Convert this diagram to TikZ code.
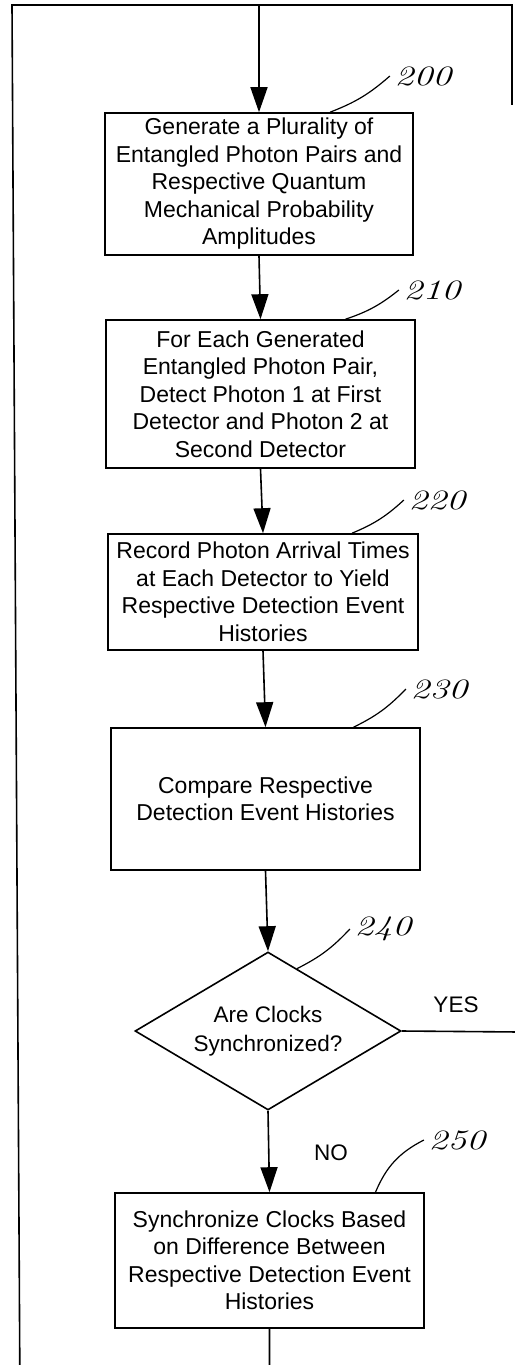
\documentclass[tikz,border=0pt]{standalone}
\usepackage{fontspec}
\setmainfont{Liberation Sans}
\newfontfamily\handfont{Latin Modern Roman}
\usetikzlibrary{arrows.meta,shapes.geometric}

\tikzset{
	stepbox/.style={draw, line width=1.6pt, align=center, inner sep=0pt,
		font=\fontsize{23}{27.5}\selectfont},
	query/.style={draw, diamond, aspect=1.68, line width=1.6pt, align=center,
		inner sep=0pt, minimum width=266pt, minimum height=158pt,
		font=\fontsize{22.5}{29}\selectfont},
	flow/.style={line width=1.6pt, -{Triangle[length=25pt,width=17pt]}},
	wire/.style={line width=1.6pt},
	refnum/.style={font=\handfont\itshape\fontsize{28}{28}\selectfont, xscale=1.35},
	leader/.style={line width=1.2pt},
	answer/.style={font=\fontsize{22.5}{27}\selectfont}
}

\begin{document}
\begin{tikzpicture}[x=1pt,y=-1pt]
	\useasboundingbox (0,0) rectangle (514,1365);
	% process steps
	\node[stepbox, minimum width=308pt, minimum height=142pt] (b200) at (259,184)
		{Generate a Plurality of\\Entangled Photon Pairs and\\Respective Quantum\\Mechanical Probability\\Amplitudes};
	\node[stepbox, minimum width=309pt, minimum height=148pt] (b210) at (260.5,394)
		{For Each Generated\\Entangled Photon Pair,\\Detect Photon 1 at First\\Detector and Photon 2 at\\Second Detector};
	\node[stepbox, minimum width=310pt, minimum height=116pt] (b220) at (263,592)
		{Record Photon Arrival Times\\at Each Detector to Yield\\Respective Detection Event\\Histories};
	\node[stepbox, minimum width=309pt, minimum height=142pt] (b230) at (265.5,799)
		{Compare Respective\\Detection Event Histories};
	\node[query] (d240) at (268,1031) {Are Clocks\\Synchronized?};
	\node[stepbox, minimum width=309pt, minimum height=135pt] (b250) at (269.5,1260.5)
		{Synchronize Clocks Based\\on Difference Between\\Respective Detection Event\\Histories};
	% reference numerals
	\node[refnum] (l200) at (423,76) {200};
	\node[refnum] (l210) at (432,290) {210};
	\node[refnum] (l220) at (437,500) {220};
	\node[refnum] (l230) at (439,689) {230};
	\node[refnum] (l240) at (383,929) {240};
	\node[refnum] (l250) at (457,1140) {250};
	\node[answer] (yes) at (456,1005) {YES};
	\node[answer] (no) at (331,1153) {NO};
	\coordinate (topright) at (512,5);
	\coordinate (rightstub) at (512,105);
	\coordinate (yesend) at (520,1032);
	% connectors
	\draw[flow] (b200.south) -- (b210.north);
	\draw[flow] (b210.south) -- (b220.north);
	\draw[flow] (b220.south) -- (b230.north);
	\draw[flow] (b230.south) -- (d240.north);
	\draw[flow] (d240.south) -- (b250.north);
	\draw[wire] (d240.east) -- (yesend);
	\draw[flow] (b250.south) |- (20,1400) -- (12,5) -| (b200.north);
	\draw[wire] (b200.north |- topright) -- (topright) -- (rightstub);
	% leaders
	\draw[leader] ([xshift=71pt]b200.north) to[bend right=10] (l200.west);
	\draw[leader] ([xshift=85pt]b210.north) to[bend right=10] (l210.west);
	\draw[leader] ([xshift=89pt]b220.north) to[bend right=10] (l220.west);
	\draw[leader] ([xshift=88pt]b230.north) to[bend right=10] (l230.west);
	\draw[leader] (d240.65) to[bend right=10] (l240.west);
	\draw[leader] ([xshift=106pt]b250.north) to[bend left=20] (l250.west);
\end{tikzpicture}
\end{document}
